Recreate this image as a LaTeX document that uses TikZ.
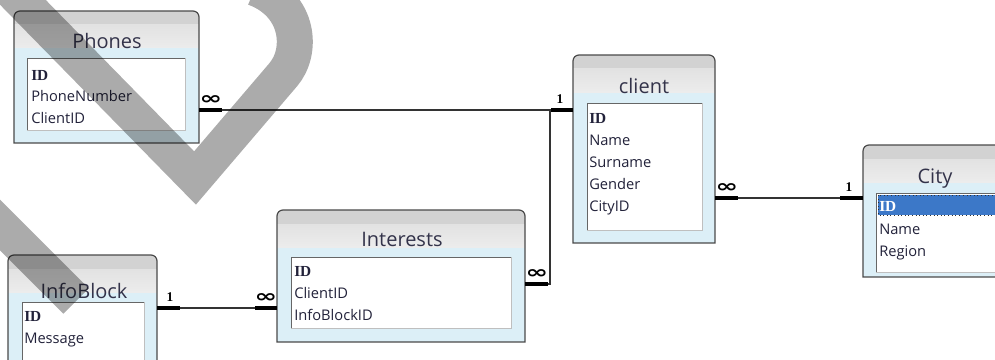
\documentclass[tikz,border=0pt]{standalone}
\usepackage{fontspec}
\usepackage{graphicx}
\setmainfont{Open Sans}
\newfontfamily\idfont{Liberation Serif}
\newfontfamily\symfont{DejaVu Sans}
\usetikzlibrary{fit,calc}
\definecolor{boxblue}{HTML}{DCEFF7}
\definecolor{hdrA}{HTML}{D2D2D2}
\definecolor{hdrB}{HTML}{E2E2E2}
\definecolor{hdrC}{HTML}{ECECEC}
\definecolor{bordc}{HTML}{4A4A4A}
\definecolor{txt}{HTML}{22223A}
\definecolor{ttl}{HTML}{33334A}
\definecolor{selblue}{HTML}{3C78C8}
\tikzset{
  boxline/.style={draw=bordc, line width=0.9pt},
  rowtext/.style={anchor=base west, inner sep=0pt, text=txt, font=\fontsize{11}{13}\selectfont},
  idtext/.style={anchor=base west, inner sep=0pt, text=txt, font=\idfont\bfseries\fontsize{11.5}{13}\selectfont},
  titletext/.style={anchor=base, inner sep=0pt, text=ttl, font=\fontsize{15}{18}\selectfont},
  rel/.style={draw=black!80, line width=1pt},
  stub/.style={draw=black, line width=3pt},
  cardinf/.style={inner sep=0pt, font=\symfont\bfseries\fontsize{14}{14}\selectfont},
  cardone/.style={inner sep=0pt, font=\idfont\bfseries\fontsize{10}{10}\selectfont},
  watermark/.style={line width=27pt, black, opacity=0.33},
}
\newcommand{\infsym}{\scalebox{1.45}[0.95]{∞}}
% #1 name, #2 x1, #3 y1, #4 x2, #5 y2
\newcommand{\erbox}[5]{%
  \begin{scope}
    \clip (#2,#5) -- (#2,#3+6) arc[start angle=180,end angle=270,radius=6] -- (#4-6,#3) arc[start angle=270,end angle=360,radius=6] -- (#4,#5) -- cycle;
    \fill[boxblue] (#2,#3) rectangle (#4,#5);
    \fill[hdrA] (#2,#3) rectangle (#4,#3+14);
    \shade[top color=hdrB, bottom color=hdrC] (#2,#3+14) rectangle (#4,#3+37);
  \end{scope}
  \draw[boxline] (#2,#5) -- (#2,#3+6) arc[start angle=180,end angle=270,radius=6] -- (#4-6,#3) arc[start angle=270,end angle=360,radius=6] -- (#4,#5) -- cycle;
  \coordinate (#1-nw) at (#2,#3);
  \coordinate (#1-se) at (#4,#5);
  \node[fit=(#1-nw)(#1-se), inner sep=0pt, outer sep=0pt] (#1) {};
}
% inner list: x1,y1,x2,y2
\newcommand{\erlist}[4]{%
  \fill[white] (#1,#2) rectangle (#3,#4);
  \draw[black!25, line width=0.7pt] (#3,#2) -- (#3,#4) -- (#1,#4);
  \draw[black!60, line width=0.7pt] (#1,#4) -- (#1,#2) -- (#3,#2);
}
\begin{document}
\begin{tikzpicture}[x=0.75pt,y=-0.75pt]
\useasboundingbox (0,0) rectangle (995,360);
\clip (0,0) rectangle (995,360);
\fill[white] (0,0) rectangle (995,360);

% Phones
\erbox{phones}{14}{11}{199}{143}
\erlist{27}{58}{185}{130}
\node[titletext] (phones-t) at (107,48.3) {Phones};
\node[idtext] (phones-r1) at (31,80) {ID};
\node[rowtext] (phones-r2) at (31,101.7) {PhoneNumber};
\node[rowtext] (phones-r3) at (31,123.3) {ClientID};

% client
\erbox{client}{573}{55}{715}{243}
\erlist{587}{103}{702}{230}
\node[titletext] (client-t) at (644,93.3) {client};
\node[idtext] (client-r1) at (589,123.3) {ID};
\node[rowtext] (client-r2) at (589,145) {Name};
\node[rowtext] (client-r3) at (589,167.7) {Surname};
\node[rowtext] (client-r4) at (589,189.3) {Gender};
\node[rowtext] (client-r5) at (589,211.7) {CityID};

% City
\erbox{city}{863}{145}{1010}{277}
\erlist{876}{193}{1002}{272}
\fill[selblue] (878,195) rectangle (1000,215);
\draw[black!80, dotted, line width=0.7pt] (878,195) rectangle (1000,215);
\node[titletext] (city-t) at (935,183.3) {City};
\node[idtext, text=white] (city-r1) at (879,211.7) {ID};
\node[rowtext] (city-r2) at (879,234) {Name};
\node[rowtext] (city-r3) at (879,256) {Region};

% Interests
\erbox{interests}{277}{210}{525}{342}
\erlist{291}{257}{511}{328}
\node[titletext] (interests-t) at (402,246) {Interests};
\node[idtext] (interests-r1) at (294,276) {ID};
\node[rowtext] (interests-r2) at (294,298.3) {ClientID};
\node[rowtext] (interests-r3) at (294,320) {InfoBlockID};

% InfoBlock
\erbox{infoblock}{8}{255}{157}{390}
\erlist{22}{302}{144}{385}
\node[titletext] (infoblock-t) at (84,298.3) {InfoBlock};
\node[idtext] (infoblock-r1) at (24,321.7) {ID};
\node[rowtext] (infoblock-r2) at (24,343.3) {Message};

% connector levels
\coordinate (yA) at (0,110);
\coordinate (yB) at (0,284);
\coordinate (yC) at (0,198);
\coordinate (yD) at (0,308);

% Phones -- client
\draw[rel] (phones.east |- yA) -- (client.west |- yA);
\draw[stub] (phones.east |- yA) -- ++(23,0);
\draw[stub] (client.west |- yA) -- ++(-22,0);
\node[cardinf] (c1a) at ($(phones.east |- yA)+(12,-10)$) {\infsym};
\node[cardone] (c1b) at ($(client.west |- yA)+(-13,-11)$) {1};

% Interests -- client
\draw[rel] (interests.east |- yB) -| ($(client.west |- yA)+(-23,0)$);
\draw[stub] (interests.east |- yB) -- ++(23,0);
\node[cardinf] (c2a) at ($(interests.east |- yB)+(12,-10)$) {\infsym};

% client -- City
\draw[rel] (client.east |- yC) -- (city.west |- yC);
\draw[stub] (client.east |- yC) -- ++(23,0);
\draw[stub] (city.west |- yC) -- ++(-23,0);
\node[cardinf] (c3a) at ($(client.east |- yC)+(12,-10)$) {\infsym};
\node[cardone] (c3b) at ($(city.west |- yC)+(-14,-11)$) {1};

% InfoBlock -- Interests
\draw[rel] (infoblock.east |- yD) -- (interests.west |- yD);
\draw[stub] (infoblock.east |- yD) -- ++(23,0);
\draw[stub] (interests.west |- yD) -- ++(-22,0);
\node[cardone] (c4a) at ($(infoblock.east |- yD)+(13,-11)$) {1};
\node[cardinf] (c4b) at ($(interests.west |- yD)+(-11,-10)$) {\infsym};

% watermark
\draw[watermark, line join=miter]
  (1,-20) -- (195,178) -- (283,75) .. controls (303,52) and (300,5) .. (255,-12);
\draw[watermark] (-20,205) -- (76,301);
\end{tikzpicture}
\end{document}
